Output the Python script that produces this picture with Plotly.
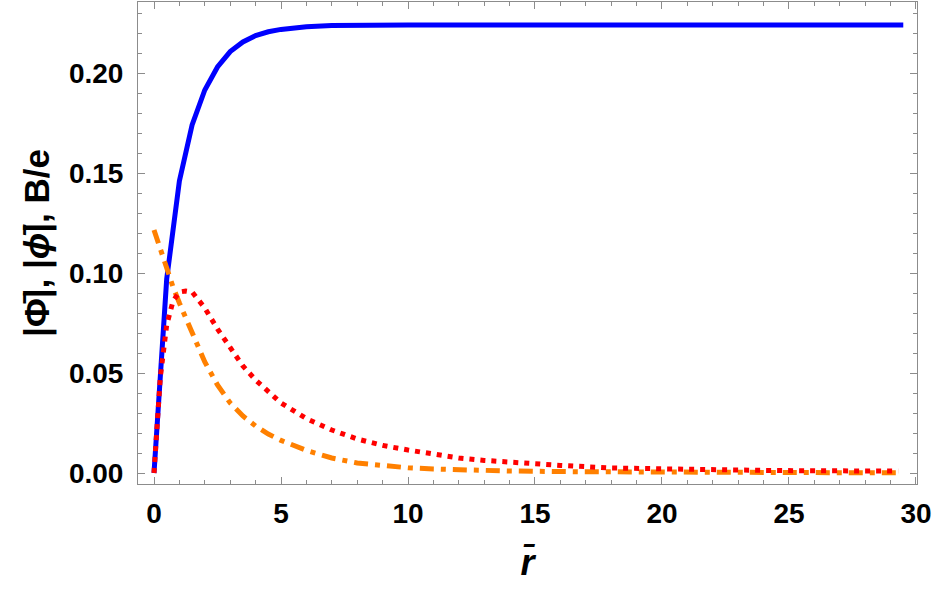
import plotly.graph_objects as go

# Blue curve (|Phi|)
r_blue = [0, 0.5, 1, 1.5, 2, 2.5, 3, 3.5, 4, 4.5, 5, 6, 7, 8, 10, 12, 15, 20, 25, 29.5]
phi_big = [0, 0.097, 0.146, 0.174, 0.1915, 0.203, 0.2107, 0.2155, 0.2187, 0.2206,
           0.2218, 0.2231, 0.2237, 0.2239, 0.2240, 0.2240, 0.2240, 0.2240, 0.2240, 0.2240]

# Red dotted and orange dash-dot curves
r_grid = [0, 0.25, 0.5, 0.75, 1, 1.25, 1.5, 2, 2.5, 3, 3.5, 4, 4.5, 5, 6, 7, 8, 9, 10,
          11, 12, 13, 14, 16, 18, 20, 22, 24, 26, 28, 29.3]
phi_small = [0, 0.048, 0.074, 0.086, 0.0905, 0.091, 0.0905, 0.0825, 0.072, 0.0625,
             0.0535, 0.0465, 0.0405, 0.035, 0.0272, 0.0215, 0.017, 0.0138, 0.0115,
             0.0092, 0.0075, 0.0063, 0.0053, 0.0038, 0.0025, 0.0019, 0.0015, 0.0013,
             0.0011, 0.0010, 0.0010]
b_over_e = [0.1215, 0.1115, 0.101, 0.093, 0.085, 0.0775, 0.070, 0.0555, 0.044, 0.035,
            0.0285, 0.0235, 0.0195, 0.0163, 0.0113, 0.0075, 0.005, 0.0036, 0.0026,
            0.0020, 0.0015, 0.0012, 0.0010, 0.0007, 0.0005, 0.0004, 0.0003, 0.0002,
            0.0002, 0.0001, 0.0001]

x_ticks = [0, 5, 10, 15, 20, 25, 30]
y_ticks = [0.00, 0.05, 0.10, 0.15, 0.20]

fig = go.Figure()
fig.add_trace(go.Scatter(x=r_blue, y=phi_big, mode="lines",
                         line=dict(color="#0000FF", width=5)))
fig.add_trace(go.Scatter(x=r_grid, y=b_over_e, mode="lines",
                         line=dict(color="#FF8000", width=5, dash="14px,7px,5px,7px")))
fig.add_trace(go.Scatter(x=r_grid, y=phi_small, mode="lines",
                         line=dict(color="#FF0000", width=5, dash="5px,6px")))

font_tick = dict(family="Liberation Sans, Arial, sans-serif", size=28, color="black",
                 weight="bold")
axis_common = dict(
    showline=True, linecolor="#8c8c8c", linewidth=1, mirror="allticks",
    ticks="inside", ticklen=7, tickcolor="#8c8c8c", tickwidth=1,
    showgrid=False, zeroline=False, tickfont=font_tick,
)

fig.update_xaxes(range=[-0.63, 30.04], tickvals=x_ticks,
                 ticktext=[str(v) for v in x_ticks],
                 minor=dict(ticks="inside", ticklen=4, dtick=1, tick0=0,
                            tickcolor="#8c8c8c", showgrid=False),
                 title=dict(text="<b><i>r̄</i></b>",
                            font=dict(family="Liberation Sans, Arial", size=36, color="black"),
                            standoff=22),
                 ticklabelstandoff=4,
                 **axis_common)
fig.update_yaxes(range=[-0.0055, 0.2355], tickvals=y_ticks,
                 ticktext=[f"{v:.2f}" for v in y_ticks],
                 minor=dict(ticks="inside", ticklen=4, dtick=0.01, tick0=0,
                            tickcolor="#8c8c8c", showgrid=False),
                 title=dict(text="<b>|Φ̄|, |<i>ϕ̄</i>|, B/e</b>",
                            font=dict(family="Liberation Sans, Arial", size=35, color="black"),
                            standoff=8),
                 ticklabelstandoff=8,
                 **axis_common)

fig.update_layout(
    width=938, height=594,
    margin=dict(l=138, r=21, t=2, b=110),
    paper_bgcolor="white", plot_bgcolor="white",
    showlegend=False,
)

fig.write_html("out.html")
